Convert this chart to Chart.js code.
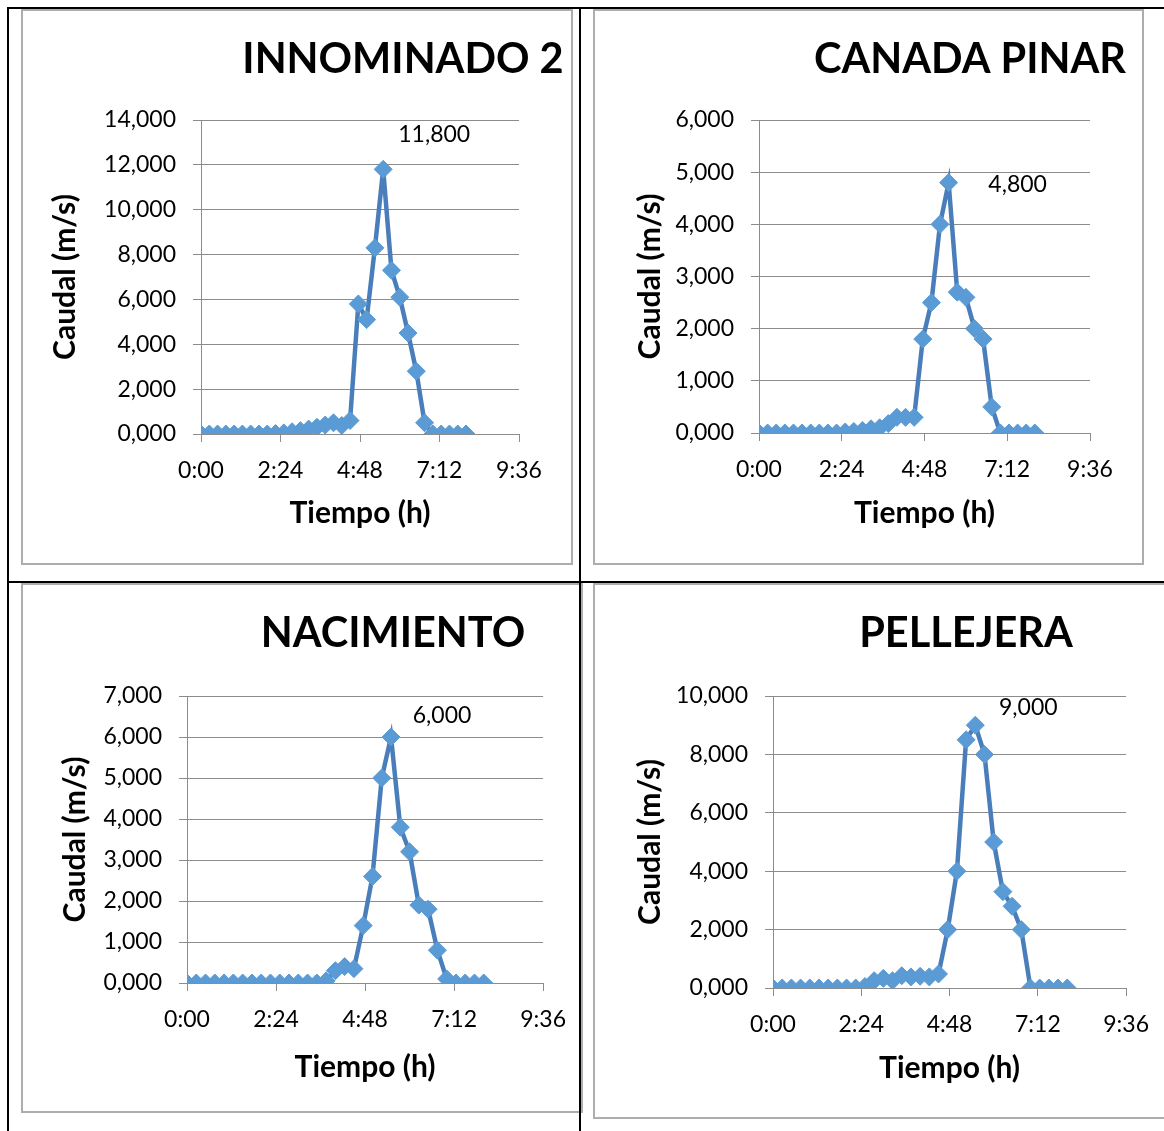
<!DOCTYPE html>
<html><head><meta charset="utf-8">
<script src="https://cdn.jsdelivr.net/npm/chart.js@4.4.1/dist/chart.umd.min.js"></script>
<style>
html,body{margin:0;padding:0;background:#fff;width:1164px;height:1131px;overflow:hidden;}
.frame{position:absolute;box-sizing:border-box;border:2px solid #adadad;}
.bline{position:absolute;background:#000;}
canvas{position:absolute;}
</style></head><body>
<div class="frame" style="left:21px;top:9px;width:552px;height:556px"></div>
<div class="frame" style="left:593px;top:9px;width:551px;height:556px"></div>
<div class="frame" style="left:21px;top:583px;width:562px;height:530px"></div>
<div class="frame" style="left:593px;top:583px;width:580px;height:536px"></div>
<canvas id="c1"></canvas><canvas id="c2"></canvas><canvas id="c3"></canvas><canvas id="c4"></canvas>
<div class="bline" style="left:7px;top:7px;width:1157px;height:2px"></div>
<div class="bline" style="left:7px;top:7px;width:2px;height:1124px"></div>
<div class="bline" style="left:579px;top:7px;width:2px;height:1124px"></div>
<div class="bline" style="left:7px;top:581px;width:1157px;height:2px"></div>
<script>
// ---- data ----
const times = ["0:00","0:15","0:30","0:45","1:00","1:15","1:30","1:45","2:00","2:15","2:30","2:45","3:00","3:15","3:30","3:45","4:00","4:15","4:30","4:45","5:00","5:15","5:30","5:45","6:00","6:15","6:30","6:45","7:00","7:15","7:30","7:45","8:00"];
const xTickLabels = ["0:00","2:24","4:48","7:12","9:36"];
const innominado2 = [0,0,0,0,0,0,0,0,0,20,50,100,150,220,300,400,500,380,600,5800,5100,8300,11800,7300,6100,4500,2800,500,0,0,0,0,0];
const canadaPinar = [0,0,0,0,0,0,0,0,0,0,20,30,50,80,100,180,300,300,300,1800,2500,4000,4800,2700,2600,2000,1800,500,0,0,0,0,0];
const nacimiento = [0,0,0,0,0,0,0,0,0,0,0,0,0,0,0,50,300,400,350,1400,2600,5000,6000,3800,3200,1900,1800,800,100,0,0,0,0];
const pellejera = [0,0,0,0,0,0,0,0,0,0,50,250,330,250,420,380,400,380,480,2000,4000,8500,9000,8000,5000,3300,2800,2000,0,0,0,0,0];
const titles = ["INNOMINADO 2","CANADA PINAR","NACIMIENTO","PELLEJERA"];
const yTitle = "Caudal (m/s)";
const xTitle = "Tiempo (h)";

function parseHM(s){const p=s.split(':');return (+p[0])+(+p[1])/60;}
function fmtHM(v){const m=Math.round(v*60);return Math.floor(m/60)+':'+String(m%60).padStart(2,'0');}
function fmt(v){const n=Math.round(v);const s=String(n).padStart(4,'0');return s.replace(/\B(?=(\d{3})+(?!\d))/g,',');}

const FONT='Lato';
const overlay={
  id:'overlay',
  afterDatasetsDraw(chart,args,o){
    const ctx=chart.ctx;ctx.save();
    ctx.fillStyle='#000';ctx.textAlign='center';ctx.textBaseline='middle';
    ctx.font='bold '+o.titleSize+'px '+FONT;
    ctx.fillText(o.title,o.tx,o.ty);
    const ds=chart.data.datasets[0].data;let mi=0;
    ds.forEach((d,i)=>{if(d.y>ds[mi].y)mi=i;});
    const pt=chart.getDatasetMeta(0).data[mi];
    ctx.font='23px '+FONT;
    ctx.fillText(fmt(ds[mi].y),pt.x+o.dx,pt.y+o.dy);
    ctx.restore();
  }
};

const layouts=[
 {id:'c1',frame:[22,9,572,564],plot:[201,120,519,434],tc:[403,60],yTX:65,xTY:513,yMax:14000,yStep:2000,vals:innominado2,off:[51,-35]},
 {id:'c2',frame:[594,9,1143,564],plot:[759,120,1090,433],tc:[970,60],yTX:650,xTY:513,yMax:6000,yStep:1000,vals:canadaPinar,off:[69,2]},
 {id:'c3',frame:[22,584,581,1112],plot:[187,696,547,983],tc:[393,634],yTX:75,xTY:1067,yMax:7000,yStep:1000,vals:nacimiento,off:[51,-21]},
 {id:'c4',frame:[594,584,1164,1118],plot:[773,696,1139,988],tc:[966,634],yTX:650,xTY:1068,yMax:10000,yStep:2000,vals:pellejera,off:[53,-18]}
];
const AX_SIZE=30, TITLE_LH=36;
layouts.forEach((L,k)=>{
  const [fl,ft,fr,fb]=L.frame,[pl,pt,pr,pb]=L.plot;
  const W=fr-fl,H=fb-ft;
  const cv=document.getElementById(L.id);
  cv.width=W;cv.height=H;cv.style.left=fl+'px';cv.style.top=ft+'px';cv.style.width=W+'px';cv.style.height=H+'px';
  const padL=(L.yTX-fl)-TITLE_LH/2;
  const padB=(fb-L.xTY)-TITLE_LH/2;
  const yW=(pl-fl)-padL;
  const xH=(fb-pb)-padB;
  const data=times.map((t,i)=>({x:parseHM(t),y:L.vals[i]}));
  new Chart(cv,{
    type:'line',
    data:{datasets:[{data,borderColor:'#4a7ebb',borderWidth:4.5,pointStyle:'rectRot',pointRadius:9,pointHoverRadius:9,
      pointBackgroundColor:'#5b9bd5',pointBorderColor:'#5b9bd5',pointBorderWidth:1,tension:0}]},
    options:{
      responsive:false,animation:false,
      layout:{padding:{left:padL,right:fr-pr,top:pt-ft,bottom:padB}},
      plugins:{legend:{display:false},tooltip:{enabled:false},
        overlay:{title:titles[k],tx:L.tc[0]-fl,ty:L.tc[1]-ft,titleSize:41.5,dx:L.off[0],dy:L.off[1]}},
      scales:{
        x:{type:'linear',min:0,max:9.6,
          afterBuildTicks(s){s.ticks=xTickLabels.map(t=>({value:parseHM(t)}));},
          ticks:{callback:v=>fmtHM(v),color:'#000',font:{family:FONT,size:23},padding:15,maxRotation:0,autoSkip:false},
          grid:{drawOnChartArea:false,drawTicks:true,tickLength:8,color:'#8c8c8c'},
          border:{color:'#8c8c8c',width:1},
          title:{display:true,text:xTitle,color:'#000',font:{family:FONT,size:AX_SIZE,weight:'bold',lineHeight:1.2},padding:0},
          afterFit(s){s.height=xH;}},
        y:{min:0,max:L.yMax,
          ticks:{stepSize:L.yStep,callback:v=>fmt(v),color:'#000',font:{family:FONT,size:23},padding:17},
          grid:{color:'#8c8c8c',tickLength:8,drawTicks:true},
          border:{color:'#8c8c8c',width:1},
          title:{display:true,text:yTitle,color:'#000',font:{family:FONT,size:AX_SIZE,weight:'bold',lineHeight:1.2},padding:0},
          afterFit(s){s.width=yW;}}
      }
    },
    plugins:[overlay]
  });
});
</script>
</body></html>
